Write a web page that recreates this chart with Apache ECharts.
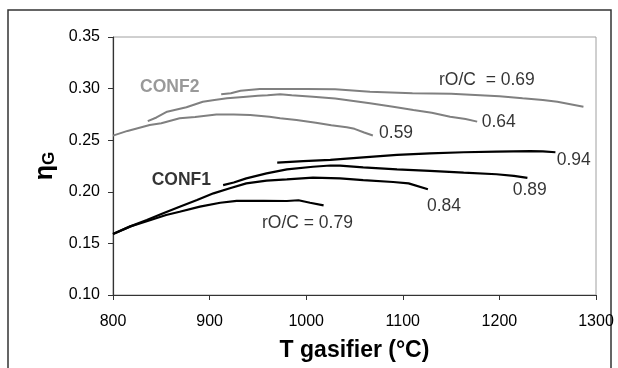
<!DOCTYPE html>
<html>
<head>
<meta charset="utf-8">
<script src="https://cdn.jsdelivr.net/npm/echarts@6/dist/echarts.min.js"></script>
<style>html,body{margin:0;padding:0;background:#fff}#c{width:618px;height:368px}</style>
</head>
<body>
<div id="c"></div>
<script>
// ---- data ----
var xTicks = [800, 900, 1000, 1100, 1200, 1300];
var yTicks = [0.10, 0.15, 0.20, 0.25, 0.30, 0.35];

// CONF2 curves (gray)
var c2_069_T = [912, 922, 932, 952, 970, 1000, 1030, 1066, 1110, 1150, 1175, 1200, 1224, 1245, 1260, 1287];
var c2_069_E = [0.2945, 0.2955, 0.2980, 0.2996, 0.2997, 0.2995, 0.2993, 0.2970, 0.2955, 0.2950, 0.2938, 0.2925, 0.2906, 0.2890, 0.2873, 0.2825];

var c2_064_T = [836, 845, 856, 876, 893, 905, 918, 938, 950, 960, 973, 985, 1007, 1030, 1066, 1090, 1111, 1130, 1149, 1165, 1177];
var c2_064_E = [0.2685, 0.2720, 0.2776, 0.2819, 0.2873, 0.2890, 0.2906, 0.2922, 0.2930, 0.2935, 0.2945, 0.2935, 0.2922, 0.2905, 0.2858, 0.2825, 0.2793, 0.2765, 0.2728, 0.2705, 0.2680];

var c2_059_T = [800, 815, 838, 850, 869, 885, 907, 925, 942, 962, 973, 990, 1010, 1026, 1042, 1050, 1060, 1069];
var c2_059_E = [0.2544, 0.2590, 0.2647, 0.2665, 0.2712, 0.2725, 0.2750, 0.2750, 0.2744, 0.2728, 0.2712, 0.2695, 0.2670, 0.2645, 0.2625, 0.2610, 0.2575, 0.2545];

// CONF1 curves (black)
var c1_079_T = [800, 818, 835, 855, 869, 890, 911, 928, 956, 980, 992, 1004, 1018];
var c1_079_E = [0.1590, 0.1665, 0.1715, 0.1775, 0.1807, 0.1856, 0.1894, 0.1912, 0.1912, 0.1911, 0.1918, 0.1894, 0.1868];

var c1_084_T = [800, 818, 835, 852, 869, 887, 904, 921, 938, 959, 980, 1007, 1035, 1059, 1090, 1106, 1126];
var c1_084_E = [0.1590, 0.1665, 0.1727, 0.1792, 0.1856, 0.1920, 0.1985, 0.2034, 0.2082, 0.2108, 0.2120, 0.2137, 0.2131, 0.2114, 0.2095, 0.2082, 0.2024];

var c1_089_T = [914, 925, 938, 959, 980, 1007, 1025, 1035, 1059, 1094, 1128, 1163, 1197, 1215, 1229];
var c1_089_E = [0.2065, 0.2090, 0.2130, 0.2179, 0.2218, 0.2243, 0.2255, 0.2253, 0.2237, 0.2218, 0.2202, 0.2185, 0.2170, 0.2155, 0.2135];

var c1_094_T = [970, 997, 1025, 1059, 1094, 1128, 1163, 1197, 1232, 1245, 1258];
var c1_094_E = [0.2283, 0.2298, 0.2310, 0.2334, 0.2357, 0.2373, 0.2383, 0.2389, 0.2395, 0.2392, 0.2383];

// annotations: text, anchor (left edge, vertical middle) in data coordinates
var annoText = ['CONF2', 'CONF1', 'rO/C  = 0.69', '0.64', '0.59', '0.94', '0.89', '0.84', 'rO/C = 0.79'];
var annoT    = [828, 840, 1137.5, 1181.7, 1075.4, 1259.3, 1213.8, 1125, 954.2];
var annoE    = [0.3013, 0.2116, 0.3083, 0.2679, 0.2567, 0.2308, 0.2017, 0.1856, 0.1695];
var annoKind = ['gray', 'bold', 'plain', 'plain', 'plain', 'plain', 'plain', 'plain', 'plain'];

// ---- build ----
function pairs(xs, ys) { return xs.map(function (x, i) { return [x, ys[i]]; }); }
var GRAY = '#808080';
function line(name, xs, ys, color, w) {
  return { name: name, type: 'line', data: pairs(xs, ys), showSymbol: false, symbol: 'none',
    lineStyle: { color: color, width: w }, silent: true, animation: false, z: 3 };
}
var series = [
  line('CONF2 0.69', c2_069_T, c2_069_E, GRAY, 2),
  line('CONF2 0.64', c2_064_T, c2_064_E, GRAY, 2),
  line('CONF2 0.59', c2_059_T, c2_059_E, GRAY, 2),
  line('CONF1 0.79', c1_079_T, c1_079_E, '#000', 2.2),
  line('CONF1 0.84', c1_084_T, c1_084_E, '#000', 2.2),
  line('CONF1 0.89', c1_089_T, c1_089_E, '#000', 2.2),
  line('CONF1 0.94', c1_094_T, c1_094_E, '#000', 2.2)
];
var FONT = '"Liberation Sans", Arial, Helvetica, sans-serif';
var annoData = annoText.map(function (t, i) {
  var k = annoKind[i];
  return {
    value: [annoT[i], annoE[i]], name: t,
    label: {
      show: true, position: 'right', distance: 0, formatter: t,
      fontFamily: FONT,
      fontSize: 17.5,
      fontWeight: k === 'plain' ? 'normal' : 'bold',
      color: k === 'gray' ? GRAY : '#000'
    }
  };
});
series.push({ type: 'scatter', data: annoData, symbolSize: 0, silent: true, animation: false, z: 5 });

var chart = echarts.init(document.getElementById('c'), null, { renderer: 'canvas' });
chart.setOption({
  animation: false,
  backgroundColor: '#fff',
  grid: { left: 113, right: 22, top: 37, bottom: 73, show: true, borderColor: '#a0a0a0', borderWidth: 1, backgroundColor: 'transparent' },
  xAxis: {
    type: 'value', min: xTicks[0], max: xTicks[xTicks.length - 1], interval: xTicks[1] - xTicks[0],
    axisLine: { show: true, onZero: false, lineStyle: { color: '#333', width: 1.2 } },
    axisTick: { show: true, inside: false, length: 5, lineStyle: { color: '#333' } },
    axisLabel: { margin: 19, fontFamily: FONT, fontSize: 16, color: '#000', formatter: function (v) { return String(v); } },
    splitLine: { show: false },
    name: 'T gasifier (°C)', nameLocation: 'middle', nameGap: 44,
    nameTextStyle: { fontFamily: FONT, fontSize: 23, fontWeight: 'bold', color: '#000' }
  },
  yAxis: {
    type: 'value', min: yTicks[0], max: yTicks[yTicks.length - 1], interval: 0.05,
    axisLine: { show: true, onZero: false, lineStyle: { color: '#333', width: 1.2 } },
    axisTick: { show: true, inside: false, length: 5, lineStyle: { color: '#333' } },
    axisLabel: { margin: 13, fontFamily: FONT, fontSize: 16, color: '#000', formatter: function (v) { return v.toFixed(2); } },
    splitLine: { show: false },
    name: '{e|η}{g|G}', nameLocation: 'middle', nameGap: 54, nameRotate: 90,
    nameTextStyle: {
      rich: {
        e: { fontFamily: FONT, fontSize: 25, fontWeight: 'bold', color: '#000' },
        g: { fontFamily: FONT, fontSize: 17, fontWeight: 'bold', color: '#000', padding: [8, 0, 0, 0] }
      }
    }
  },
  graphic: [{
    type: 'rect', silent: true, z: 0,
    shape: { x: 8, y: 10, width: 603, height: 400 },
    style: { fill: 'none', stroke: '#333', lineWidth: 1.5 }
  }],
  series: series
});
</script>
</body>
</html>
